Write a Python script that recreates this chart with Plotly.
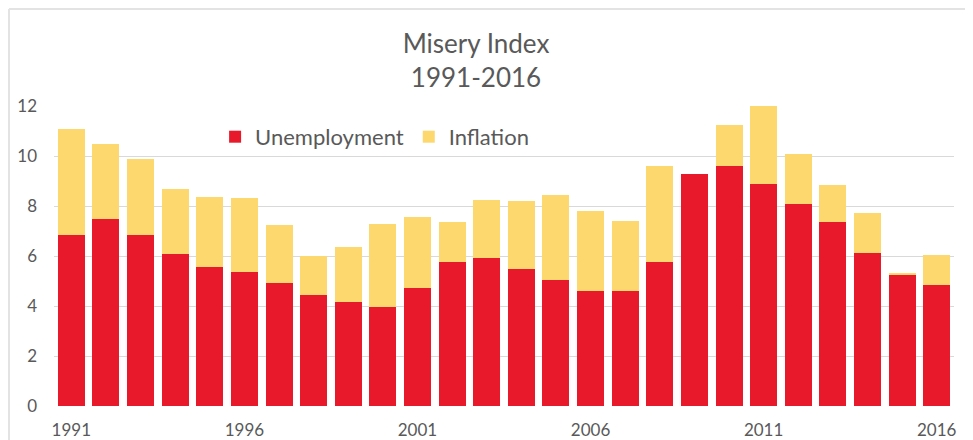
import plotly.graph_objects as go

years = list(range(1991, 2017))
unemployment = [6.84, 7.50, 6.84, 6.08, 5.56, 5.36, 4.93, 4.45, 4.16, 3.95,
                4.73, 5.75, 5.93, 5.49, 5.04, 4.60, 4.60, 5.75, 9.28, 9.60,
                8.89, 8.08, 7.37, 6.12, 5.24, 4.85]
misery_total = [11.07, 10.48, 9.87, 8.69, 8.37, 8.32, 7.23, 5.99, 6.37, 7.29,
                7.55, 7.35, 8.24, 8.19, 8.43, 7.81, 7.40, 9.59, 9.28, 11.25,
                12.00, 10.10, 8.83, 7.73, 5.33, 6.05]
inflation = [round(t - u, 2) for t, u in zip(misery_total, unemployment)]
x_tick_years = [1991, 1996, 2001, 2006, 2011, 2016]
y_ticks = [0, 2, 4, 6, 8, 10, 12]

RED = "#E8192B"
YELLOW = "#FDD86E"
TEXT = "#595959"
GRID = "#D9D9D9"
FONT = "Lato, 'Open Sans', sans-serif"

fig = go.Figure()
fig.add_trace(go.Bar(x=years, y=unemployment, name="Unemployment",
                     marker=dict(color=RED, line=dict(width=0))))
fig.add_trace(go.Bar(x=years, y=inflation, name="Inflation",
                     marker=dict(color=YELLOW, line=dict(width=0))))

fig.update_layout(
    barmode="stack",
    bargap=0.22,
    width=965, height=432,
    margin=dict(l=46, r=19, t=98, b=34, autoexpand=False),
    paper_bgcolor="white",
    plot_bgcolor="white",
    font=dict(family=FONT, color=TEXT),
    title=dict(text="Misery Index<br>1991-2016", x=0.485, xanchor="center",
               xref="container", yref="container", y=0.896, yanchor="top",
               font=dict(size=26, color=TEXT, family=FONT)),
    legend=dict(orientation="h", x=0.179, xanchor="left", y=0.897, yanchor="middle",
                font=dict(size=22, color=TEXT, family=FONT),
                bgcolor="rgba(0,0,0,0)", traceorder="normal"),
    xaxis=dict(range=[1990.5, 2016.5], tickmode="array", tickvals=x_tick_years,
               ticktext=[str(y) for y in x_tick_years], showgrid=False,
               zeroline=False, showline=False, ticks="", automargin=False,
               tickfont=dict(size=17, color=TEXT), ticklabelstandoff=12),
    yaxis=dict(range=[0, 12], tickmode="array", tickvals=y_ticks, showgrid=True,
               gridcolor=GRID, gridwidth=1, zeroline=False, showline=False,
               ticks="", automargin=False,
               tickfont=dict(size=17, color=TEXT), ticklabelstandoff=16),
    shapes=[
        dict(type="line", xref="paper", yref="paper", x0=-0.0500, x1=1.05,
             y0=1.3233, y1=1.3233, line=dict(color="#E3E3E3", width=2)),
        dict(type="line", xref="paper", yref="paper", x0=-0.0500, x1=-0.0500,
             y0=-0.2, y1=1.3233, line=dict(color="#E3E3E3", width=2)),
    ],
)

fig.write_html("out.html")
